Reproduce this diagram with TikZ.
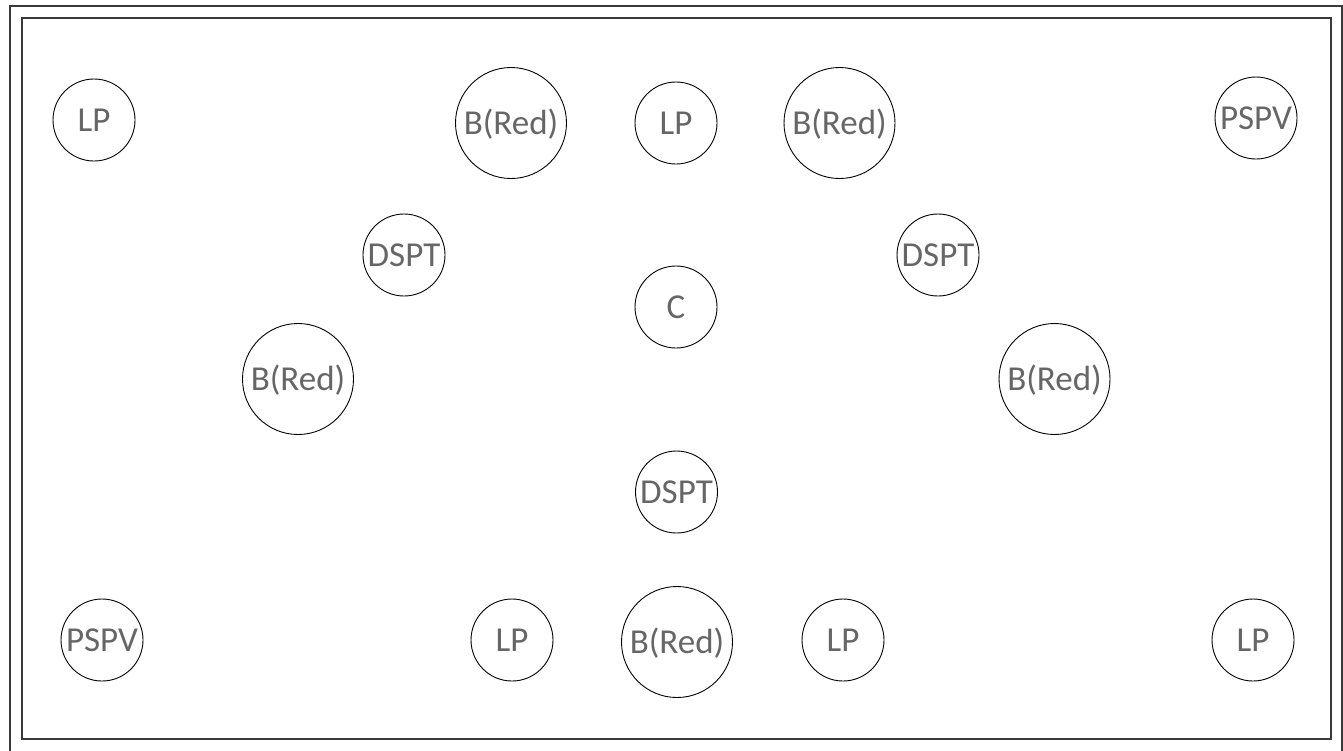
\documentclass[tikz,border=0pt]{standalone}
\usepackage{fontspec}
\setmainfont{Carlito}
\definecolor{txtgray}{HTML}{666666}
\definecolor{framegray}{HTML}{3A3A3A}
\begin{document}
\begin{tikzpicture}[x=1pt,y=-1pt,
  frame/.style={draw=framegray,line width=1.3pt},
  small/.style={circle,draw=black,line width=0.9pt,minimum size=82pt,inner sep=0pt},
  big/.style={circle,draw=black,line width=0.9pt,minimum size=111pt,inner sep=0pt},
  every label/.style={text=txtgray,font=\fontsize{35}{38}\selectfont,inner sep=0pt,
    text height=22.5pt,text depth=0pt}]
\useasboundingbox (0,0) rectangle (1343,750);
\fill[white] (0,0) rectangle (1343,750);
\draw[frame] (10,6) rectangle (1342,770);
\draw[frame] (22,18) rectangle (1331,739);
% top row
\node[small,label=center:LP] (lp1) at (94,120) {};
\node[big,label=center:B(Red)] (b1) at (511,123) {};
\node[small,label=center:LP] (lp2) at (676,123) {};
\node[big,label=center:B(Red)] (b2) at (839.5,123) {};
\node[small,label=center:PSPV] (ps1) at (1256,118) {};
% middle
\node[small,label=center:DSPT] (d1) at (404,255) {};
\node[small,label=center:DSPT] (d2) at (938,255) {};
\node[small,label=center:C] (c) at (676,307) {};
\node[big,label=center:B(Red)] (b3) at (298,379) {};
\node[big,label=center:B(Red)] (b4) at (1054.5,379) {};
\node[small,label=center:DSPT] (d3) at (676.5,492) {};
% bottom row
\node[small,label=center:PSPV] (ps2) at (102,640) {};
\node[small,label=center:LP] (lp3) at (512,640) {};
\node[big,label=center:B(Red)] (b5) at (677,642) {};
\node[small,label=center:LP] (lp4) at (843,640) {};
\node[small,label=center:LP] (lp5) at (1253,640) {};
\end{tikzpicture}
\end{document}
